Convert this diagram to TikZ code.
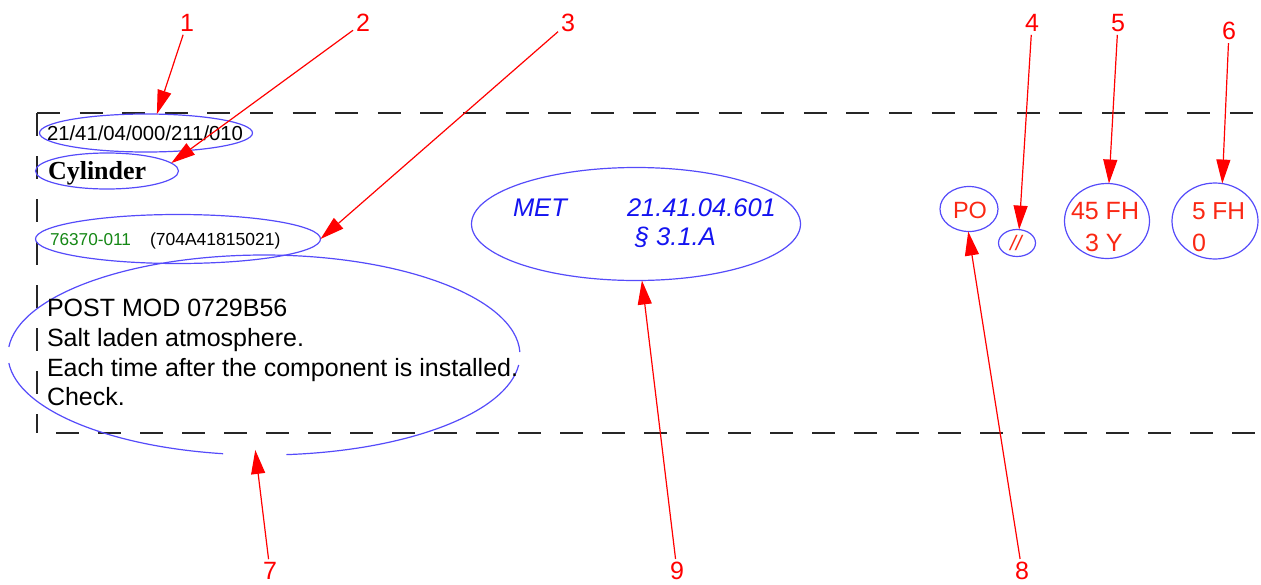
\documentclass[tikz,border=0pt]{standalone}
\usepackage{fontspec}
\setmainfont{Liberation Sans}
\newfontfamily\serifbold[BoldFont={Liberation Serif Bold}]{Liberation Serif}
\usetikzlibrary{shapes.geometric,arrows.meta}
\definecolor{ovalblue}{RGB}{85,75,250}
\definecolor{partgreen}{RGB}{20,135,20}
\definecolor{txtblue}{RGB}{20,20,240}
\definecolor{txtred}{RGB}{250,40,20}
\tikzset{
  ovalline/.style={draw=ovalblue,line width=1.2pt},
  oval/.style={ellipse,ovalline,inner sep=0pt,outer sep=0pt},
  hollowoval/.style={ellipse,inner sep=0pt,outer sep=0pt},
  callout/.style={draw=red,line width=1.2pt,-{Triangle[length=24pt,width=14pt]},shorten <=1pt},
  numlabel/.style={text=red,font=\fontsize{25}{25}\selectfont,inner sep=2pt},
  framehoriz/.style={draw=black!85,line width=1.2pt,dash pattern=on 23pt off 19.6pt},
  framevert/.style={draw=black!85,line width=1.2pt,dash pattern=on 22.5pt off 20.5pt},
  txt/.style={anchor=base west,inner sep=0pt,outer sep=0pt},
  blk/.style={txt,text=black,font=\fontsize{25}{25}\selectfont},
  ser/.style={txt,text=txtred,font=\fontsize{25}{25}\selectfont},
  met/.style={txt,text=txtblue,font=\fontsize{25.5}{25.5}\selectfont\itshape},
}
\begin{document}
\begin{tikzpicture}[x=1pt,y=-1pt]
\useasboundingbox (0,0) rectangle (1261,584);
% dashed frame
\coordinate (tl) at (37,113);
\coordinate (tr) at (1261,113);
\coordinate (bl) at (37,433);
\coordinate (br) at (1261,433);
\draw[framehoriz] (tl) -- (tr);
\draw[framehoriz,dash pattern=on 23pt off 19pt,dash phase=23pt] (bl) -- (br);
\draw[framevert] (tl) -- (bl);
% ovals
\node[oval,minimum width=213pt,minimum height=38pt] (e1) at (146,133) {};
\node[oval,minimum width=143pt,minimum height=36pt] (e2) at (107,171) {};
\node[oval,minimum width=285pt,minimum height=49pt] (e3) at (178,239) {};
\node[hollowoval,minimum width=512pt,minimum height=200pt] (e7) at (264,355) {};
\draw[ovalline] ([shift={(1.7:256pt and 100pt)}]e7.center) arc[start angle=1.7,end angle=175.4,x radius=256pt,y radius=100pt];
\draw[ovalline] ([shift={(184.6:256pt and 100pt)}]e7.center) arc[start angle=184.6,end angle=260.8,x radius=256pt,y radius=100pt];
\draw[ovalline] ([shift={(275:256pt and 100pt)}]e7.center) arc[start angle=275,end angle=354.3,x radius=256pt,y radius=100pt];
\node[oval,minimum width=329pt,minimum height=113pt] (e9) at (636,224) {};
\node[oval,minimum width=58pt,minimum height=45pt] (e8) at (969,209) {};
\node[oval,minimum width=37pt,minimum height=27pt] (e4) at (1017,243) {};
\node[oval,minimum width=85pt,minimum height=75pt] (e5) at (1107,221) {};
\node[oval,minimum width=86pt,minimum height=76pt] (e6) at (1215,221) {};
% texts
\node[txt,font=\fontsize{20.3}{20.3}\selectfont] (t1) at (47,140) {21/41/04/000/211/010};
\node[txt,font=\serifbold\bfseries\fontsize{26}{26}\selectfont] (t2) at (48,179) {Cylinder};
\node[txt,text=partgreen,font=\fontsize{17.2}{17.2}\selectfont] (t3a) at (50,245) {76370-011};
\node[txt,font=\fontsize{17.5}{17.5}\selectfont] (t3b) at (150,245) {(704A41815021)};
\node[blk] (t7a) at (47,316) {POST MOD 0729B56};
\node[blk] (t7b) at (47,346) {Salt laden atmosphere.};
\node[blk] (t7c) at (47,376) {Each time after the component is installed.};
\node[blk] (t7d) at (47,405) {Check.};
\node[met] (t9a) at (513,216) {MET};
\node[met] (t9b) at (627,216) {21.41.04.601};
\node[met] (t9c) at (635,245) {§ 3.1.A};
\node[ser,font=\fontsize{23.5}{23.5}\selectfont] (t8) at (953,218) {PO};
\node[ser,font=\fontsize{21}{21}\selectfont\itshape] (t4) at (1010,250) {//};
\node[ser] (t5a) at (1071,219) {45 FH};
\node[ser] (t5b) at (1085,251) {3 Y};
\node[ser,font=\fontsize{24.5}{24.5}\selectfont] (t6a) at (1192,219) {5 FH};
\node[ser] (t6b) at (1192,251) {0};
% number labels
\node[numlabel] (n1) at (187,23) {1};
\node[numlabel] (n2) at (363,23) {2};
\node[numlabel] (n3) at (568,23) {3};
\node[numlabel] (n4) at (1032,23) {4};
\node[numlabel] (n5) at (1118,23) {5};
\node[numlabel] (n6) at (1229,31) {6};
\node[numlabel] (n7) at (270,571) {7};
\node[numlabel] (n8) at (1022,571) {8};
\node[numlabel] (n9) at (677,571) {9};
% callouts
\draw[callout] (n1) -- (e1.60);
\draw[callout] (n2) -- (e2.7);
\draw[callout] (n3) -- (e3.0);
\draw[callout] (n4) -- (e4.81);
\draw[callout] (n5) -- (e5.87);
\draw[callout] (n6) -- (e6.79);
\draw[callout] (n7) -- ([yshift=5pt]e7.265);
\draw[callout] (n8) -- (e8.268);
\draw[callout] (n9) -- (e9.276);
\end{tikzpicture}
\end{document}
